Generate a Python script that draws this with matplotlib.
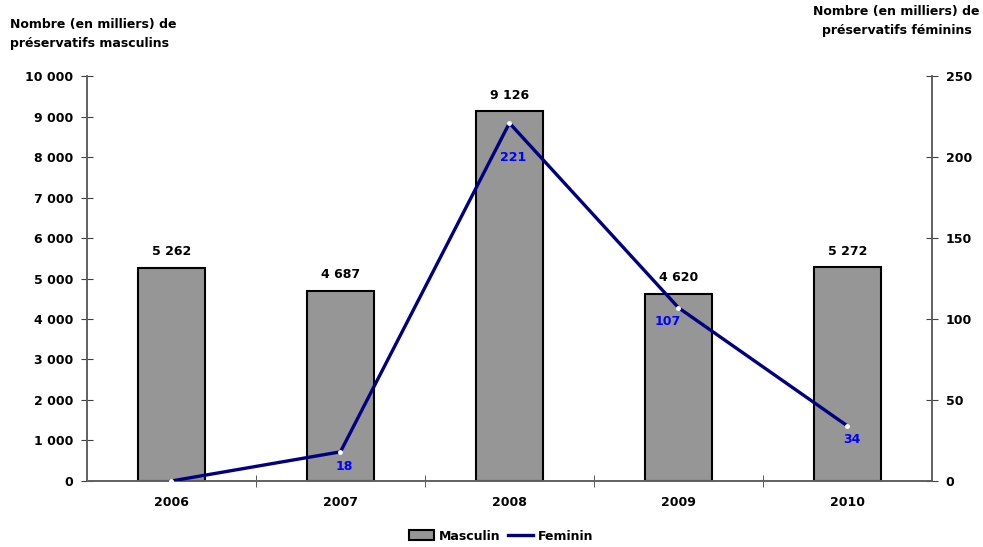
import matplotlib
matplotlib.use("Agg")
import matplotlib.pyplot as plt
from matplotlib.lines import Line2D
from matplotlib.patches import Patch

plt.rcParams['font.family'] = ['DejaVu Sans']

years = ["2006", "2007", "2008", "2009", "2010"]
masculin = [5262, 4687, 9126, 4620, 5272]
feminin = [0, 18, 221, 107, 34]
feminin_labels = [None, "18", "221", "107", "34"]
left_ticks = [0, 1000, 2000, 3000, 4000, 5000, 6000, 7000, 8000, 9000, 10000]
right_ticks = [0, 50, 100, 150, 200, 250]

# label placement for the line values (points offset from each marker)
label_offsets = [(0, 0), (3, -6), (3, -20), (-8, -5), (3, -5)]


def fmt(v):
    return f"{v:,}".replace(",", " ")


fig = plt.figure(figsize=(9.83, 5.47), dpi=100)
ax = fig.add_axes([0.0885, 0.1207, 0.8595, 0.7403])
ax2 = ax.twinx()

x = list(range(len(years)))
ax.bar(x, masculin, width=0.40, color="#969696", edgecolor="black", linewidth=1.5, zorder=2)
for xi, v in zip(x, masculin):
    ax.annotate(fmt(v), (xi, v), xytext=(0, 7), textcoords="offset points",
                ha="center", va="bottom", fontsize=9, fontweight="bold", color="black")

ax.set_xlim(-0.5, len(years) - 0.5)
ax.set_ylim(0, 10000)
ax.set_yticks(left_ticks)
ax.set_yticklabels([fmt(t) for t in left_ticks], fontsize=9, fontweight="bold")
ax.set_xticks(x)
ax.set_xticklabels(years, fontsize=9, fontweight="bold")
ax.tick_params(axis="x", length=0, pad=11)
ax.set_xticks([i + 0.5 for i in x[:-1]], minor=True)
ax.tick_params(axis="x", which="minor", length=8, direction="inout", color="#404040")
ax.tick_params(axis="y", length=8, direction="inout", color="#404040", pad=6)

ax2.set_ylim(0, 250)
ax2.set_yticks(right_ticks)
ax2.set_yticklabels([str(t) for t in right_ticks], fontsize=9, fontweight="bold")
ax2.tick_params(axis="y", length=8, direction="inout", color="#404040", pad=6)
ax2.plot(x, feminin, color="#000080", linewidth=2.4, zorder=3,
         marker="o", markersize=2.5, markerfacecolor="white", markeredgecolor="white")
for xi, v, lab, off in zip(x, feminin, feminin_labels, label_offsets):
    if lab:
        ax2.annotate(lab, (xi, v), xytext=off, textcoords="offset points",
                     ha="center", va="top", fontsize=9, fontweight="bold", color="#0000FF")

for a in (ax, ax2):
    a.spines["top"].set_visible(False)
    for s in ("left", "right", "bottom"):
        a.spines[s].set_color("#606060")
        a.spines[s].set_linewidth(1.2)

fig.text(0.010, 0.968, "Nombre (en milliers) de\npréservatifs masculins", ha="left", va="top",
         fontsize=9, fontweight="bold", linespacing=1.6)
fig.text(0.912, 0.990, "Nombre (en milliers) de\npréservatifs féminins", ha="center", va="top",
         fontsize=9, fontweight="bold", linespacing=1.6)

handles = [Patch(facecolor="#969696", edgecolor="black", linewidth=1.5),
           Line2D([0], [0], color="#000080", linewidth=2.4)]
fig.legend(handles, ["Masculin", "Feminin"], loc="center", bbox_to_anchor=(0.51, 0.02),
           ncol=2, frameon=False, prop={"size": 9, "weight": "bold"},
           handlelength=2.0, handleheight=0.8, columnspacing=0.6, handletextpad=0.4)

fig.savefig("out.png", dpi=100)
